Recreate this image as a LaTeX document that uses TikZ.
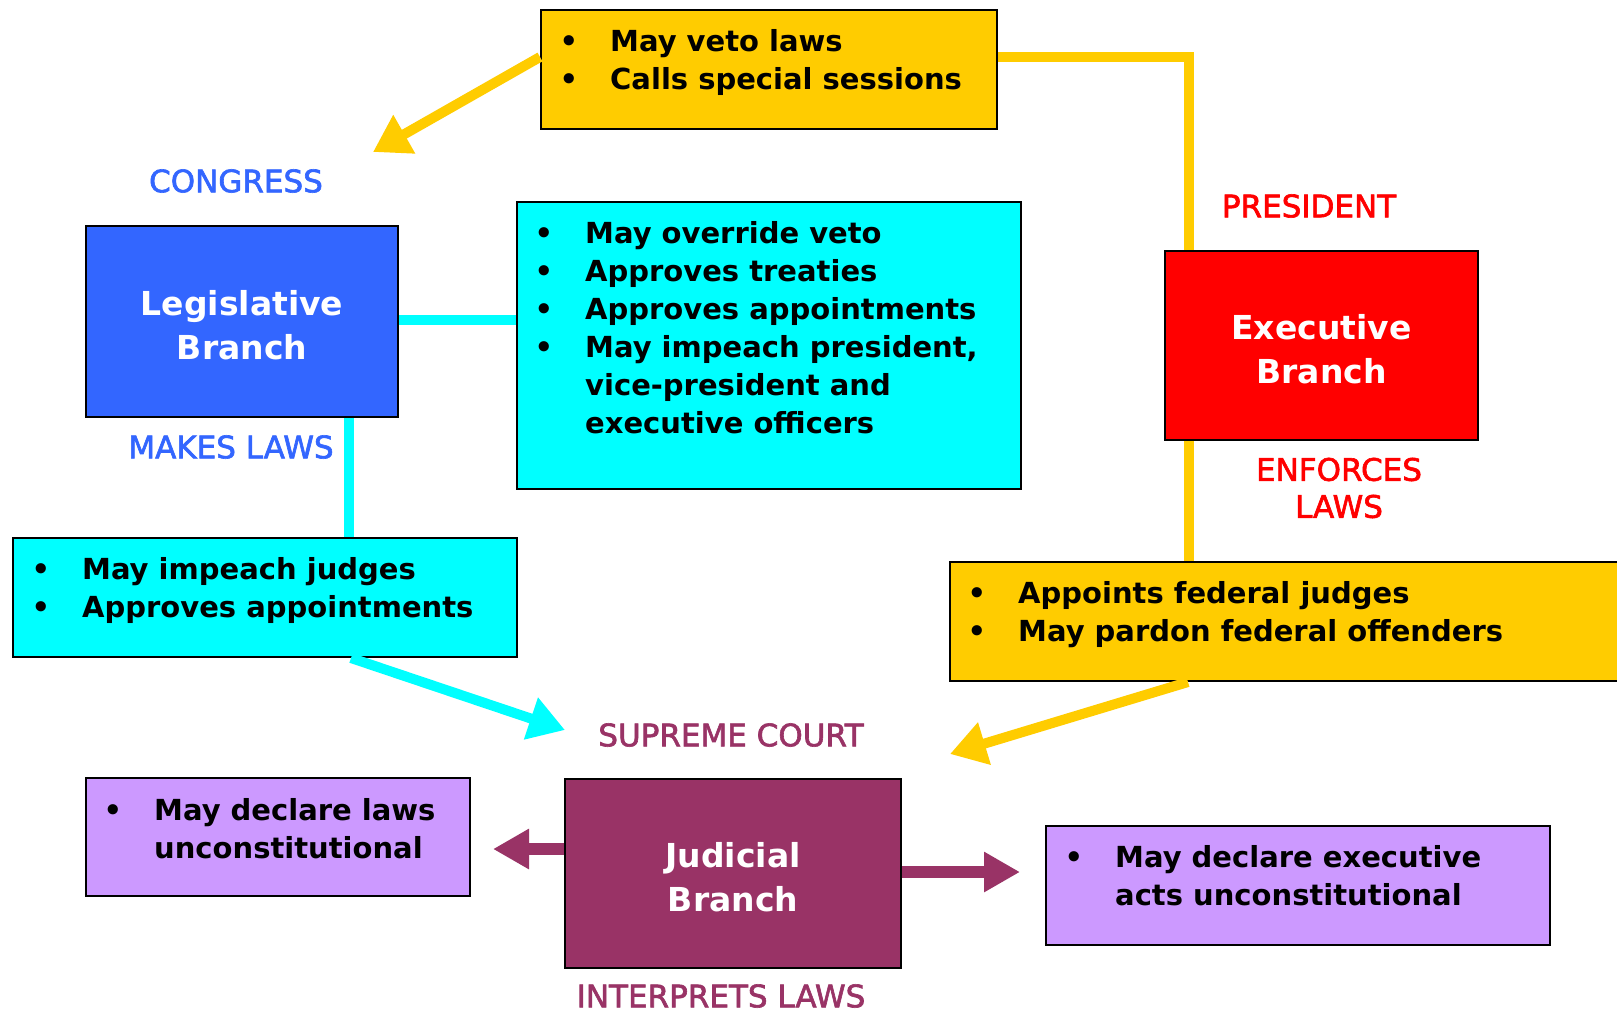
\documentclass[tikz,border=0pt]{standalone}
\usepackage{fontspec}
\setmainfont{DejaVu Sans}
\newfontfamily\tagfont{DejaVu Sans}[FakeBold=2]
\usetikzlibrary{arrows.meta}
\definecolor{gold}{RGB}{255,204,0}
\definecolor{aqua}{RGB}{0,255,255}
\definecolor{royal}{RGB}{51,102,255}
\definecolor{scarlet}{RGB}{255,0,0}
\definecolor{plum}{RGB}{153,51,102}
\definecolor{lilac}{RGB}{204,153,255}
\newcommand{\bul}{\makebox[50.5pt][l]{•}}
\newcommand{\twolines}[2]{\raisebox{-13.5pt}[0pt][0pt]{\begin{tabular}{@{}c@{}}#1\\#2\end{tabular}}}

\begin{document}
\begin{tikzpicture}[x=1pt,y=-1pt,
    panel/.style={draw=black, line width=2pt, inner sep=0pt, anchor=north west},
    branch/.style={panel, text=white, font=\bfseries\fontsize{33}{44}\selectfont},
    items/.style={anchor=base west, inner sep=0pt, font=\bfseries\fontsize{29}{38}\selectfont},
    tag/.style={inner sep=0pt, align=center, font=\tagfont\fontsize{31}{37}\selectfont},
    link/.style={line width=10pt},
    arrowlink/.style={link, -{Triangle[length=36pt,width=42pt]}},
    plumarrow/.style={plum, line width=12pt, -{Triangle[length=36pt,width=38pt]}}
]
    \path[use as bounding box, fill=white] (0,0) rectangle (1617,1013);

    % President's checks
    \node[panel, fill=gold, minimum width=456pt, minimum height=119pt] (veto) at (540,9) {};
    \node[items] (vetolist) at (559.5,51) {\begin{tabular}[t]{@{}l@{}}
        \bul May veto laws\\
        \bul Calls special sessions
    \end{tabular}};

    % Congress's checks
    \node[panel, fill=aqua, minimum width=504pt, minimum height=287pt] (override) at (516,201) {};
    \node[items] (overridelist) at (534.5,243) {\begin{tabular}[t]{@{}l@{}}
        \bul May override veto\\
        \bul Approves treaties\\
        \bul Approves appointments\\
        \bul May impeach president,\\
        \hspace*{50.5pt}vice-president and\\
        \hspace*{50.5pt}executive officers
    \end{tabular}};

    \node[panel, fill=aqua, minimum width=504pt, minimum height=119pt] (impeach) at (12,537) {};
    \node[items] (impeachlist) at (31.5,579) {\begin{tabular}[t]{@{}l@{}}
        \bul May impeach judges\\
        \bul Approves appointments
    \end{tabular}};

    \node[panel, fill=gold, minimum width=700pt, minimum height=119pt] (appoint) at (949,561) {};
    \node[items] (appointlist) at (967.5,603) {\begin{tabular}[t]{@{}l@{}}
        \bul Appoints federal judges\\
        \bul May pardon federal offenders
    \end{tabular}};

    % Court's checks
    \node[panel, fill=lilac, minimum width=384pt, minimum height=118pt] (laws) at (85,777) {};
    \node[items] (lawslist) at (103.5,820) {\begin{tabular}[t]{@{}l@{}}
        \bul May declare laws\\
        \hspace*{50.5pt}unconstitutional
    \end{tabular}};

    \node[panel, fill=lilac, minimum width=504pt, minimum height=119pt] (acts) at (1045,825) {};
    \node[items] (actslist) at (1064.5,867) {\begin{tabular}[t]{@{}l@{}}
        \bul May declare executive\\
        \hspace*{50.5pt}acts unconstitutional
    \end{tabular}};

    % Branches
    \node[branch, fill=royal, minimum width=312pt, minimum height=191pt] (leg) at (85,225) {\twolines{Legislative}{Branch}};
    \node[branch, fill=scarlet, minimum width=313pt, minimum height=189pt] (exec) at (1164,250) {\twolines{Executive}{Branch}};
    \node[branch, fill=plum, minimum width=336pt, minimum height=189pt] (jud) at (564,778) {\twolines{Judicial}{Branch}};

    % Labels
    \node[tag, text=royal] (congress) at (236,181) {CONGRESS};
    \node[tag, text=royal] (makes) at (231,447) {MAKES LAWS};
    \node[tag, text=scarlet] (president) at (1309,206) {PRESIDENT};
    \node[tag, text=scarlet] (enforces) at (1339,488) {ENFORCES\\LAWS};
    \node[tag, text=plum] (supreme) at (731,735) {SUPREME COURT};
    \node[tag, text=plum] (interprets) at (721,996) {INTERPRETS LAWS};

    % Arrow ends
    \coordinate (congtip) at (373,152);
    \coordinate (courttip) at (565,730);
    \coordinate (pardontip) at (950,754);
    \coordinate (lawstip) at (493,849);
    \coordinate (actstip) at (1020,872);

    % Connectors
    \draw[link, gold] (veto.east |- 0,57) -| (1189,0 |- exec.north);
    \draw[arrowlink, gold] (veto.west |- 0,57) -- (congtip);
    \draw[link, aqua] (leg.east |- 0,320) -- (override.west |- 0,320);
    \draw[link, aqua] (349,0 |- leg.south) -- (349,0 |- impeach.north);
    \draw[arrowlink, aqua] (351,0 |- impeach.south) -- (courttip);
    \draw[link, gold] (1189,0 |- exec.south) -- (1189,0 |- appoint.north);
    \draw[arrowlink, gold] (1188,0 |- appoint.south) -- (pardontip);
    \draw[plumarrow] (jud.west |- 0,849) -- (lawstip);
    \draw[plumarrow] (jud.east |- 0,872) -- (actstip);
\end{tikzpicture}
\end{document}
